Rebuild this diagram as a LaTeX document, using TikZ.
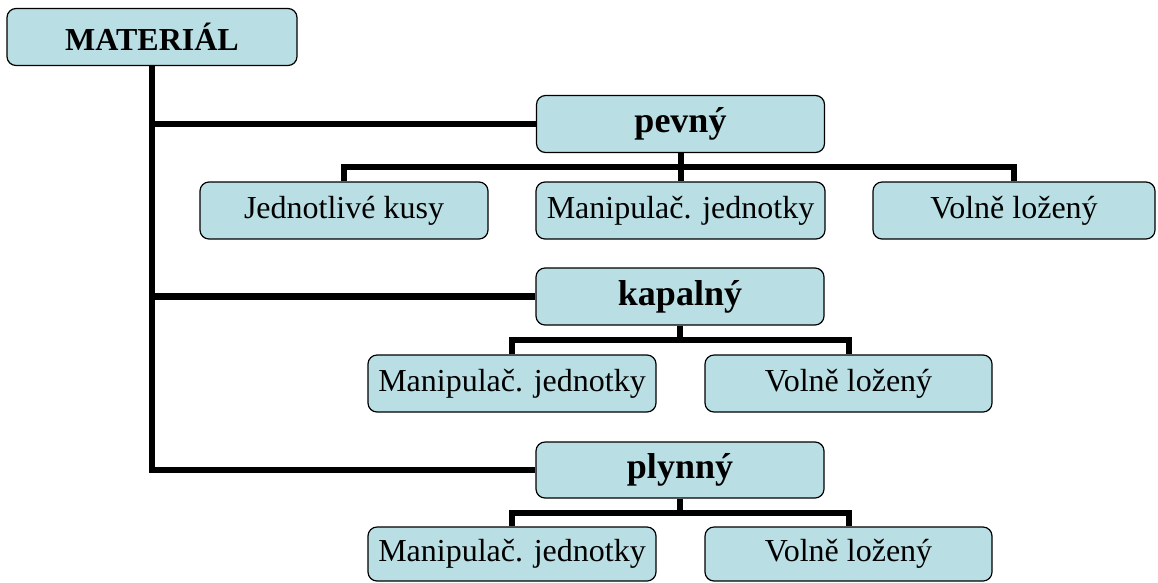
\documentclass[tikz,border=0pt]{standalone}
\usepackage{fontspec}
\setmainfont{Liberation Serif}
\usepackage{tikz}
\usetikzlibrary{positioning}
\usetikzlibrary{calc}
\definecolor{boxfill}{RGB}{185,223,228}
\tikzset{
	box/.style = {rectangle, rounded corners=9pt, draw=black, line width=1.2pt,
	 fill=boxfill, inner sep=0pt, minimum height=57pt},
	root/.style = {box, minimum width=290pt, font=\fontsize{32}{36}\selectfont\bfseries},
	head/.style = {box, minimum width=288pt, font=\fontsize{36}{40}\selectfont\bfseries},
	leaf/.style = {box, font=\fontsize{32}{36}\selectfont},
	link/.style = {line width=6.5pt, line join=miter},
	twig/.style = {line width=6pt, line join=miter},
}
\begin{document}
\begin{tikzpicture}[x=1pt, y=-1pt]
	\useasboundingbox (0,0) rectangle (1158,582);
	\node (mat) [root] at (152,37) {MATERIÁL};
	\node (pevny) [head] at (680.5,124) {pevný};
	\node (kusy) [leaf, minimum width=288pt] at (344,210.5) {Jednotlivé kusy};
	\node (manipA) [leaf, minimum width=289pt] at (680.5,210.5) {Manipulač. jednotky};
	\node (volneA) [leaf, minimum width=282pt] at (1014,210.5) {Volně ložený};
	\node (kapalny) [head] at (680,296.5) {kapalný};
	\node (manipB) [leaf, minimum width=288pt] at (512,383.5) {Manipulač. jednotky};
	\node (volneB) [leaf, minimum width=287pt] at (848.5,383.5) {Volně ložený};
	\node (plynny) [head, minimum height=56pt] at (680,470) {plynný};
	\node (manipC) [leaf, minimum width=288pt, minimum height=54pt] at (512,554) {Manipulač. jednotky};
	\node (volneC) [leaf, minimum width=287pt, minimum height=54pt] at (848.5,554) {Volně ložený};
	% trunk
	\draw[link] (mat.south) |- (pevny.west);
	\draw[link] (mat.south) |- (kapalny.west);
	\draw[link] (mat.south) |- (plynny.west);
	% pevny
	\coordinate (pj) at ($(pevny.south)!.5!(manipA.north)$);
	\draw[twig] (pevny.south) -- (pj) -| (kusy.north);
	\draw[twig] (pj) -| (volneA.north);
	\draw[twig] (pj) -- (manipA.north);
	% kapalny
	\coordinate (kj) at ($(kapalny.south)!.5!(kapalny.south |- manipB.north)$);
	\draw[twig] (kapalny.south) -- (kj) -| (manipB.north);
	\draw[twig] (kj) -| (volneB.north);
	% plynny
	\coordinate (yj) at ($(plynny.south)!.5!(plynny.south |- manipC.north)$);
	\draw[twig] (plynny.south) -- (yj) -| (manipC.north);
	\draw[twig] (yj) -| (volneC.north);
\end{tikzpicture}
\end{document}
